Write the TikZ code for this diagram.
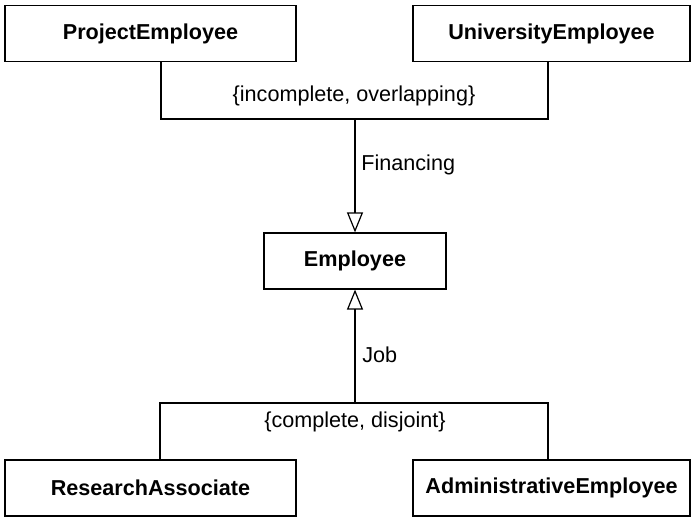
\documentclass[tikz,border=0pt]{standalone}
\usepackage{fontspec}
\setmainfont{Liberation Sans}
\usetikzlibrary{arrows.meta}

\begin{document}
\begin{tikzpicture}[
  x=0.5pt, y=-0.5pt,
  font=\fontsize{10.8}{13}\selectfont,
  box/.style={rectangle, draw, line width=0.6pt, inner sep=0pt, minimum height=28pt, font=\fontsize{10.8}{13}\selectfont\bfseries},
  line/.style={draw, line width=0.6pt},
  gen/.style={line, -{Triangle[open, length=10pt, width=8pt, line width=0.6pt]}},
  lbl/.style={inner sep=0pt}
]
\useasboundingbox (0,0) rectangle (695,517);
% classes
\node[box, minimum width=145.5pt] (pe) at (150.5,33.5) {ProjectEmployee};
\node[box, minimum width=138.5pt] (ue) at (551.5,33.5) {UniversityEmployee};
\node[box, minimum width=91pt] (emp) at (355,261) {Employee};
\node[box, minimum width=145.5pt] (ra) at (150.5,488) {ResearchAssociate};
\node[box, minimum width=138.5pt] (ae) at (551.5,488) {AdministrativeEmployee};
% generalization set: Financing
\coordinate (finL) at (161,119);
\coordinate (finM) at (355,119);
\coordinate (finR) at (548,119);
\draw[line] (pe.south -| finL) |- (finR) -- (ue.south -| finR);
\draw[gen] (finM) -- (emp.north);
\node[lbl, anchor=base] (fincon) at (354,102) {\{incomplete, overlapping\}};
\node[lbl, anchor=base west] (finlbl) at (361,171) {Financing};
% generalization set: Job
\coordinate (jobL) at (160,403);
\coordinate (jobM) at (355,403);
\coordinate (jobR) at (548,403);
\draw[line] (ra.north -| jobL) |- (jobR) -- (ae.north -| jobR);
\draw[gen] (jobM) -- (emp.south);
\node[lbl, anchor=base] (jobcon) at (355,428) {\{complete, disjoint\}};
\node[lbl, anchor=base west] (joblbl) at (362,363) {Job};
\end{tikzpicture}
\end{document}
